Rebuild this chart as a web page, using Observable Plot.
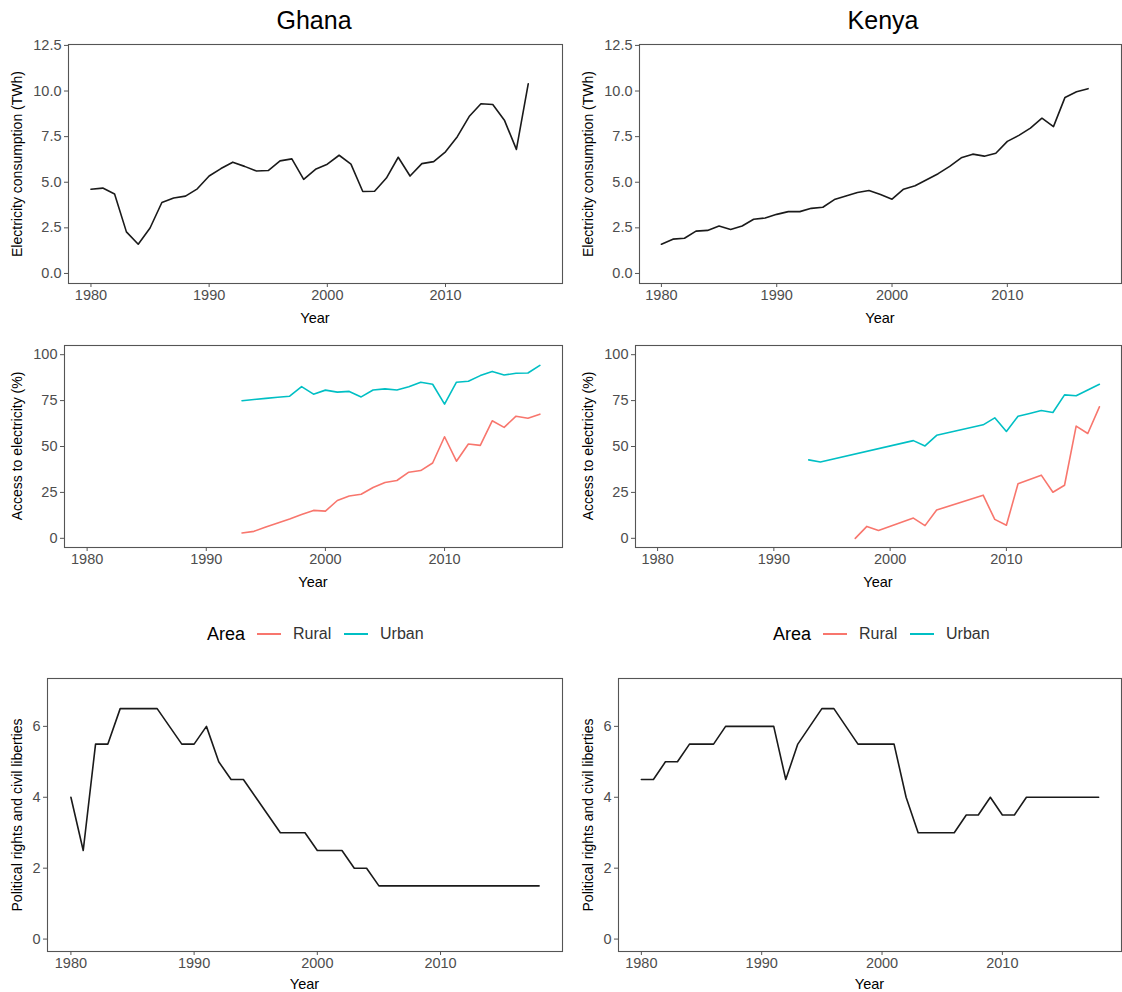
<!DOCTYPE html>
<html><head><meta charset="utf-8">
<script src="https://cdn.jsdelivr.net/npm/d3@7"></script>
<script src="https://cdn.jsdelivr.net/npm/@observablehq/plot@0.6"></script>
<style>
body{margin:0;background:#fff;font-family:"Liberation Sans",Arial,sans-serif;}
#root{position:relative;width:1122px;height:992px;overflow:hidden;background:#fff;}
.abs{position:absolute;white-space:nowrap;line-height:1;}
.title{font-size:25px;color:#000;transform:translate(-50%,-50%);}
.xt{font-size:14.5px;color:#000;transform:translate(-50%,-50%);}
.yt{font-size:14px;color:#000;transform:translate(-50%,-50%) rotate(-90deg);}
.lg{font-size:16px;color:#333;transform:translate(0,-50%);}
.lgh{font-size:18px;color:#000;transform:translate(0,-50%);}
.key{height:2px;width:24px;transform:translate(0,-50%);}
svg{overflow:visible;}
</style></head><body><div id="root"></div><script>
// ---------- data ----------
const elecYears = [1980,1981,1982,1983,1984,1985,1986,1987,1988,1989,1990,1991,1992,1993,1994,1995,1996,1997,1998,1999,2000,2001,2002,2003,2004,2005,2006,2007,2008,2009,2010,2011,2012,2013,2014,2015,2016,2017];
const ghanaElec = [4.62,4.68,4.36,2.28,1.60,2.49,3.89,4.14,4.24,4.64,5.34,5.75,6.10,5.87,5.62,5.64,6.17,6.28,5.16,5.71,5.99,6.48,5.99,4.49,4.51,5.23,6.37,5.34,6.02,6.13,6.67,7.50,8.60,9.30,9.26,8.38,6.80,10.39];
const kenyaElec = [1.60,1.88,1.93,2.32,2.36,2.60,2.41,2.60,2.97,3.04,3.24,3.39,3.39,3.57,3.63,4.05,4.25,4.44,4.55,4.33,4.07,4.62,4.81,5.14,5.47,5.87,6.34,6.54,6.43,6.59,7.24,7.57,7.97,8.51,8.05,9.65,9.96,10.13];

const ghanaAccessYears = [1993,1994,1995,1996,1997,1998,1999,2000,2001,2002,2003,2004,2005,2006,2007,2008,2009,2010,2011,2012,2013,2014,2015,2016,2017,2018];
const ghanaUrban = [74.9,75.6,76.2,76.8,77.4,82.6,78.5,80.7,79.6,80.0,77.0,80.8,81.4,80.8,82.5,85.0,83.9,73.1,85.0,85.5,88.6,90.9,88.9,89.9,90.0,94.2];
const ghanaRural = [2.9,3.8,6.1,8.3,10.5,13.0,15.2,14.8,20.6,23.0,24.0,27.7,30.4,31.5,36.0,36.9,41.0,55.3,42.0,51.4,50.6,64.0,60.4,66.5,65.4,67.6];

const kenyaUrbanYears = [1993,1994,2002,2003,2004,2008,2009,2010,2011,2012,2013,2014,2015,2016,2017,2018];
const kenyaUrban = [42.7,41.6,53.2,50.3,56.1,61.8,65.6,58.2,66.5,68.0,69.6,68.5,78.1,77.6,80.8,83.9];
const kenyaRuralYears = [1997,1998,1999,2002,2003,2004,2008,2009,2010,2011,2013,2014,2015,2016,2017,2018];
const kenyaRural = [0.0,6.5,4.3,11.0,6.9,15.4,23.5,10.3,7.1,29.7,34.4,25.1,28.9,61.1,57.1,71.6];

const freeYears = [1980,1981,1982,1983,1984,1985,1986,1987,1988,1989,1990,1991,1992,1993,1994,1995,1996,1997,1998,1999,2000,2001,2002,2003,2004,2005,2006,2007,2008,2009,2010,2011,2012,2013,2014,2015,2016,2017,2018];
const ghanaFree = [4,2.5,5.5,5.5,6.5,6.5,6.5,6.5,6,5.5,5.5,6,5,4.5,4.5,4,3.5,3,3,3,2.5,2.5,2.5,2,2,1.5,1.5,1.5,1.5,1.5,1.5,1.5,1.5,1.5,1.5,1.5,1.5,1.5,1.5];
const kenyaFree = [4.5,4.5,5,5,5.5,5.5,5.5,6,6,6,6,6,4.5,5.5,6,6.5,6.5,6,5.5,5.5,5.5,5.5,4,3,3,3,3,3.5,3.5,4,3.5,3.5,4,4,4,4,4,4,4];

const countries = ["Ghana","Kenya"];
const areas = ["Rural","Urban"];
const areaColors = ["#F8766D","#00BFC4"];
const yearTicks = [1980,1990,2000,2010];
const elecTicks = [0,2.5,5,7.5,10,12.5];
const accessTicks = [0,25,50,75,100];
const freeTicks = [0,2,4,6];
const elecLabel = "Electricity consumption (TWh)";
const accessLabel = "Access to electricity (%)";
const freeLabel = "Political rights and civil liberties";

// ---------- helpers ----------
const root = document.getElementById("root");
function addDiv(cls, text, x, y, extraStyle) {
  const d = document.createElement("div");
  d.className = "abs " + cls;
  d.textContent = text;
  d.style.left = x + "px"; d.style.top = y + "px";
  if (extraStyle) Object.assign(d.style, extraStyle);
  root.appendChild(d);
  return d;
}
const zip = (xs, ys, extra) => xs.map((x, i) => ({year: x, value: ys[i], ...extra}));

// layout: columns and rows (frame boxes)
const cols = [{left: 0, width: 571, right: 562}, {left: 571, width: 551, right: 1121}];
const rows = [
  {top: 30, height: 300, frameTop: 44, frameBottom: 283, frameLeft: 68, yDomain: [-0.55, 12.55], ticks: elecTicks, fmt: d3.format(".1f"), label: elecLabel, yearY: 318},
  {top: 335, height: 265, frameTop: 345, frameBottom: 547, frameLeft: 64, yDomain: [-5, 105], ticks: accessTicks, fmt: d3.format("d"), label: accessLabel, yearY: 582},
  {top: 665, height: 327, frameTop: 678, frameBottom: 951, frameLeft: 47, yDomain: [-0.35, 7.35], ticks: freeTicks, fmt: d3.format("d"), label: freeLabel, yearY: 984}
];
const tickFont = 14.5;

function panel(ci, ri, lineMarks) {
  const c = cols[ci], r = rows[ri];
  const fl = r.frameLeft + (ci === 1 ? 571 : 0);
  const plot = Plot.plot({
    width: c.width,
    height: r.height,
    marginLeft: fl - c.left,
    marginRight: c.left + c.width - c.right,
    marginTop: r.frameTop - r.top,
    marginBottom: r.top + r.height - r.frameBottom,
    style: {fontFamily: "'Liberation Sans', Arial, sans-serif", background: "transparent", overflow: "visible"},
    x: {domain: [1978.1, 2019.9]},
    y: {domain: r.yDomain},
    color: {domain: areas, range: areaColors},
    marks: [
      ...lineMarks,
      Plot.frame({stroke: "#555", strokeWidth: 1.1}),
      Plot.axisX({ticks: yearTicks, tickFormat: d => String(d), tickSize: 4, tickPadding: 2, stroke: "#555", fill: "#4d4d4d", fontSize: tickFont, label: null}),
      Plot.axisY({ticks: r.ticks, tickFormat: r.fmt, tickSize: 4, tickPadding: 3, stroke: "#555", fill: "#4d4d4d", fontSize: tickFont, label: null})
    ]
  });
  plot.style.position = "absolute";
  plot.style.left = c.left + "px";
  plot.style.top = r.top + "px";
  root.appendChild(plot);
  // axis titles
  const cx = (fl + c.right) / 2;
  addDiv("xt", "Year", cx, r.yearY);
  addDiv("yt", r.label, 17 + (ci === 1 ? 571 : 0), (r.frameTop + r.frameBottom) / 2);
}

const lineOpts = {x: "year", y: "value", strokeWidth: 1.6};
// row 1
panel(0, 0, [Plot.line(zip(elecYears, ghanaElec), {...lineOpts, stroke: "#1a1a1a"})]);
panel(1, 0, [Plot.line(zip(elecYears, kenyaElec), {...lineOpts, stroke: "#1a1a1a"})]);
// row 2
const ghanaAccess = [...zip(ghanaAccessYears, ghanaRural, {area: "Rural"}), ...zip(ghanaAccessYears, ghanaUrban, {area: "Urban"})];
const kenyaAccess = [...zip(kenyaRuralYears, kenyaRural, {area: "Rural"}), ...zip(kenyaUrbanYears, kenyaUrban, {area: "Urban"})];
panel(0, 1, [Plot.line(ghanaAccess, {...lineOpts, z: "area", stroke: "area"})]);
panel(1, 1, [Plot.line(kenyaAccess, {...lineOpts, z: "area", stroke: "area"})]);
// row 3
panel(0, 2, [Plot.line(zip(freeYears, ghanaFree), {...lineOpts, stroke: "#1a1a1a"})]);
panel(1, 2, [Plot.line(zip(freeYears, kenyaFree), {...lineOpts, stroke: "#1a1a1a"})]);

// titles
addDiv("title", countries[0], 314, 20);
addDiv("title", countries[1], 883, 20);

// legends
function legend(x0) {
  addDiv("lgh", "Area", x0, 634);
  areas.forEach((a, i) => {
    const kx = x0 + 50 + i * 87;
    addDiv("key", "", kx, 634, {background: areaColors[i]});
    addDiv("lg", a, kx + 36, 634);
  });
}
legend(207);
legend(773);
</script></body></html>
